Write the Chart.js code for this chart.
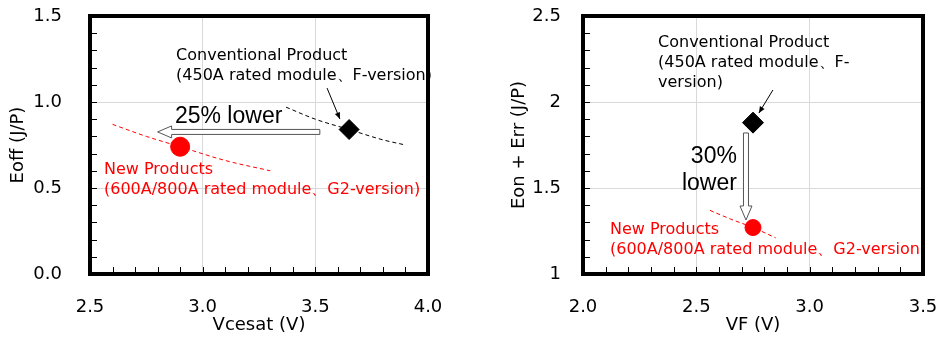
<!DOCTYPE html>
<html>
<head>
<meta charset="utf-8">
<script src="https://cdn.jsdelivr.net/npm/chart.js@4.4.1/dist/chart.umd.min.js"></script>
<style>
body{margin:0;background:#fff;}
.box{position:absolute;top:0;width:470px;height:341px;}
</style>
</head>
<body>
<div class="box" style="left:0"><canvas id="chartEoff"></canvas></div>
<div class="box" style="left:470px"><canvas id="chartErr"></canvas></div>
<script>
/* DATA - left chart (Eoff vs Vcesat) */
const eoffConvX = [3.65]
const eoffConvY = [0.84]
const eoffNewX = [2.9]
const eoffNewY = [0.74]
const eoffConvCurveX = [3.37, 3.5, 3.65, 3.8, 3.9]
const eoffConvCurveY = [0.97, 0.9, 0.84, 0.78, 0.75]
const eoffNewCurveX = [2.6, 2.75, 2.9, 3.1, 3.3]
const eoffNewCurveY = [0.87, 0.8, 0.74, 0.66, 0.6]
const eoffXTicks = [2.5, 3.0, 3.5, 4.0]
const eoffYTicks = [0.0, 0.5, 1.0, 1.5]

/* DATA - right chart (Eon+Err vs VF) */
const errConvX = [2.75]
const errConvY = [1.88]
const errNewX = [2.75]
const errNewY = [1.27]
const errNewCurveX = [2.56, 2.65, 2.75, 2.85]
const errNewCurveY = [1.37, 1.32, 1.27, 1.21]
const errXTicks = [2.0, 2.5, 3.0, 3.5]
const errYTicks = [1, 1.5, 2, 2.5]

const FONT = "'DejaVu Sans', Verdana, sans-serif"

function pts(xs, ys) {
    return xs.map((x, i) => ({ x: x, y: ys[i] }))
}

function toPx(chart, x, y) {
    return [chart.scales.x.getPixelForValue(x), chart.scales.y.getPixelForValue(y)]
}

/* hollow block arrow */
function hollowArrow(ctx, x1, y1, x2, y2) {
    const dx = x2 - x1, dy = y2 - y1
    const len = Math.sqrt(dx * dx + dy * dy)
    const ux = dx / len, uy = dy / len
    const nx = -uy, ny = ux
    const w = 2.5, hw = 6, hl = 14
    const bx = x2 - ux * hl, by = y2 - uy * hl
    ctx.save()
    ctx.beginPath()
    ctx.moveTo(x1 + nx * w, y1 + ny * w)
    ctx.lineTo(bx + nx * w, by + ny * w)
    ctx.lineTo(bx + nx * hw, by + ny * hw)
    ctx.lineTo(x2, y2)
    ctx.lineTo(bx - nx * hw, by - ny * hw)
    ctx.lineTo(bx - nx * w, by - ny * w)
    ctx.lineTo(x1 - nx * w, y1 - ny * w)
    ctx.closePath()
    ctx.fillStyle = "#fff"
    ctx.fill()
    ctx.strokeStyle = "#555"
    ctx.lineWidth = 1
    ctx.stroke()
    ctx.restore()
}

/* thin black arrow */
function thinArrow(ctx, x1, y1, x2, y2) {
    const a = Math.atan2(y2 - y1, x2 - x1)
    ctx.save()
    ctx.strokeStyle = "#000"
    ctx.fillStyle = "#000"
    ctx.lineWidth = 1
    ctx.beginPath()
    ctx.moveTo(x1, y1)
    ctx.lineTo(x2, y2)
    ctx.stroke()
    ctx.beginPath()
    ctx.moveTo(x2, y2)
    ctx.lineTo(x2 - 7 * Math.cos(a - 0.4), y2 - 7 * Math.sin(a - 0.4))
    ctx.lineTo(x2 - 7 * Math.cos(a + 0.4), y2 - 7 * Math.sin(a + 0.4))
    ctx.closePath()
    ctx.fill()
    ctx.restore()
}

const decor = {
    id: "decor",
    beforeDatasetsDraw(chart) {
        const ctx = chart.ctx
        const a = chart.chartArea
        const xs = chart.scales.x, ys = chart.scales.y
        ctx.save()
        ctx.strokeStyle = "#000"
        ctx.lineWidth = 1
        // minor ticks every 0.1
        for (let i = Math.round(xs.min * 10) + 1; i < Math.round(xs.max * 10); i++) {
            const p = Math.round(xs.getPixelForValue(i / 10)) + 0.5
            ctx.beginPath(); ctx.moveTo(p, a.bottom); ctx.lineTo(p, a.bottom - 7); ctx.stroke()
        }
        for (let i = Math.round(ys.min * 10) + 1; i < Math.round(ys.max * 10); i++) {
            const p = Math.round(ys.getPixelForValue(i / 10)) + 0.5
            ctx.beginPath(); ctx.moveTo(a.left, p); ctx.lineTo(a.left + 7, p); ctx.stroke()
        }
        ctx.restore()
    },
    afterDatasetsDraw(chart, args, opts) {
        const ctx = chart.ctx
        const a = chart.chartArea
        opts.hollow.forEach(h => {
            const p1 = toPx(chart, h[0], h[1]), p2 = toPx(chart, h[2], h[3])
            hollowArrow(ctx, p1[0], p1[1], p2[0], p2[1])
        })
        opts.thin.forEach(h => {
            const p1 = toPx(chart, h[0], h[1]), p2 = toPx(chart, h[2], h[3])
            thinArrow(ctx, p1[0], p1[1], p2[0], p2[1])
        })
        ctx.save()
        ctx.textBaseline = "middle"
        opts.texts.forEach(t => {
            const p = toPx(chart, t.x, t.y)
            ctx.font = t.font
            ctx.fillStyle = t.color
            ctx.textAlign = t.align || "left"
            t.lines.forEach((s, i) => ctx.fillText(s, p[0], p[1] + i * t.lh))
        })
        ctx.restore()
        // frame
        ctx.save()
        ctx.strokeStyle = "#000"
        ctx.lineWidth = 4
        ctx.strokeRect(a.left, a.top, a.right - a.left, a.bottom - a.top)
        ctx.restore()
    }
}

function makeChart(id, cfg) {
    return new Chart(document.querySelector(id), {
        type: "scatter",
        data: { datasets: cfg.datasets },
        options: {
            responsive: true,
            maintainAspectRatio: false,
            animation: false,
            layout: { padding: { left: 0, right: cfg.padRight, top: 16, bottom: 0 } },
            plugins: {
                legend: { display: false },
                tooltip: { enabled: false },
                decor: cfg.decor
            },
            scales: {
                x: {
                    type: "linear",
                    min: cfg.xTicks[0],
                    max: cfg.xTicks[cfg.xTicks.length - 1],
                    afterBuildTicks: s => { s.ticks = cfg.xTicks.map(v => ({ value: v })) },
                    afterFit: s => { s.height = 67; s.paddingLeft = 0; s.paddingRight = 0 },
                    grid: { color: "#d9d9d9", drawTicks: false },
                    border: { display: false },
                    ticks: {
                        padding: 23,
                        color: "#000",
                        font: { family: FONT, size: 18 },
                        maxRotation: 0,
                        callback: v => Number(v).toFixed(1)
                    },
                    title: {
                        display: true,
                        text: cfg.xTitle,
                        color: "#000",
                        font: { family: FONT, size: 18 },
                        padding: { top: 0, bottom: 5 }
                    }
                },
                y: {
                    type: "linear",
                    min: cfg.yTicks[0],
                    max: cfg.yTicks[cfg.yTicks.length - 1],
                    afterBuildTicks: s => { s.ticks = cfg.yTicks.map(v => ({ value: v })) },
                    afterFit: s => { s.width = cfg.yWidth; s.paddingTop = 0; s.paddingBottom = 0 },
                    grid: { color: "#d9d9d9", drawTicks: false },
                    border: { display: false },
                    ticks: {
                        padding: cfg.yPad,
                        color: "#000",
                        font: { family: FONT, size: 18 },
                        callback: cfg.yFmt
                    },
                    title: {
                        display: true,
                        text: cfg.yTitle,
                        color: "#000",
                        font: { family: FONT, size: 18 },
                        padding: { top: cfg.yTitlePad, bottom: 0 }
                    }
                }
            }
        },
        plugins: [decor]
    })
}

const red = "#ff0000"
const txtFont = "16px " + FONT
const bigFont = "23px 'Liberation Sans', Arial, sans-serif"

makeChart("#chartEoff", {
    xTicks: eoffXTicks,
    yTicks: eoffYTicks,
    xTitle: "Vcesat (V)",
    yTitle: "Eoff (J/P)",
    yWidth: 90,
    yPad: 28,
    yTitlePad: 8,
    padRight: 42,
    yFmt: v => Number(v).toFixed(1),
    datasets: [
        { data: pts(eoffNewCurveX, eoffNewCurveY), showLine: true, pointRadius: 0, borderColor: red, borderWidth: 1, borderDash: [4, 3], cubicInterpolationMode: "monotone" },
        { data: pts(eoffConvCurveX, eoffConvCurveY), showLine: true, pointRadius: 0, borderColor: "#000", borderWidth: 1, borderDash: [4, 3], cubicInterpolationMode: "monotone" },
        { data: pts(eoffNewX, eoffNewY), pointStyle: "circle", pointRadius: 9.5, backgroundColor: red, borderColor: red },
        { data: pts(eoffConvX, eoffConvY), pointStyle: "rectRot", pointRadius: 10, backgroundColor: "#000", borderColor: "#000" }
    ],
    decor: {
        hollow: [[3.52, 0.826, 2.80, 0.826]],
        thin: [[3.552, 1.081, 3.609, 0.901]],
        texts: [
            { x: 2.882, y: 1.267, lines: ["Conventional Product", "(450A rated module、F-version)"], color: "#000", font: txtFont, lh: 20 },
            { x: 2.877, y: 0.913, lines: ["25% lower"], color: "#000", font: bigFont, lh: 0 },
            { x: 2.562, y: 0.605, lines: ["New Products", "(600A/800A rated module、G2-version)"], color: red, font: txtFont, lh: 20 }
        ]
    }
})

makeChart("#chartErr", {
    xTicks: errXTicks,
    yTicks: errYTicks,
    xTitle: "VF (V)",
    yTitle: "Eon + Err (J/P)",
    yWidth: 113,
    yPad: 22,
    yTitlePad: 39,
    padRight: 17,
    yFmt: v => String(v),
    datasets: [
        { data: pts(errNewCurveX, errNewCurveY), showLine: true, pointRadius: 0, borderColor: red, borderWidth: 1, borderDash: [4, 3], cubicInterpolationMode: "monotone" },
        { data: pts(errNewX, errNewY), pointStyle: "circle", pointRadius: 8, backgroundColor: red, borderColor: red },
        { data: pts(errConvX, errConvY), pointStyle: "rectRot", pointRadius: 10.5, backgroundColor: "#000", borderColor: "#000" }
    ],
    decor: {
        hollow: [[2.719, 1.82, 2.719, 1.314]],
        thin: [[2.838, 2.07, 2.776, 1.936]],
        texts: [
            { x: 2.331, y: 2.343, lines: ["Conventional Product", "(450A rated module、F-", "version)"], color: "#000", font: txtFont, lh: 20 },
            { x: 2.679, y: 1.68, lines: ["30%", "lower"], color: "#000", font: bigFont, align: "right", lh: 27 },
            { x: 2.119, y: 1.256, lines: ["New Products", "(600A/800A rated module、G2-version)"], color: red, font: txtFont, lh: 20 }
        ]
    }
})
</script>
</body>
</html>
